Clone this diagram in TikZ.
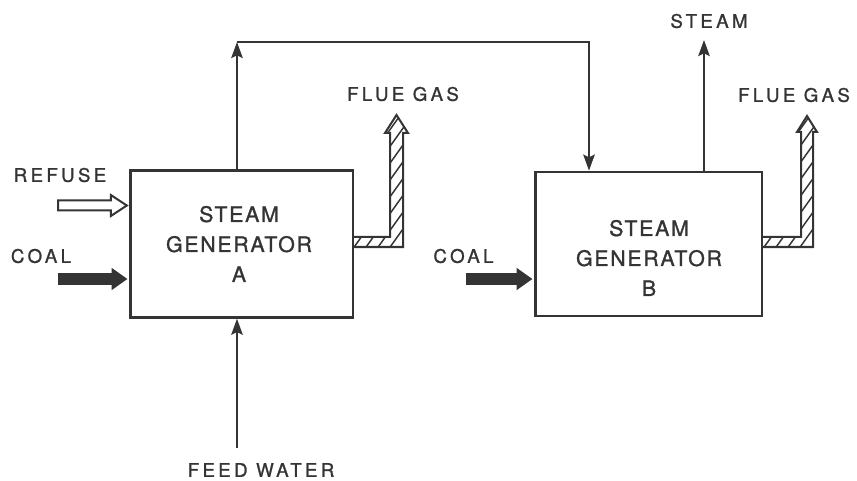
\documentclass[tikz,border=0pt]{standalone}
\usepackage{fontspec}
\setmainfont{TeX Gyre Heros}[LetterSpace=18,FakeBold=1.2]
\usetikzlibrary{arrows.meta,positioning,calc}
\definecolor{ink}{RGB}{52,52,52}

\begin{document}
\begin{tikzpicture}[x=0.75pt,y=-0.75pt,color=ink,
  every node/.style={font=\fontsize{14}{16}\selectfont,inner sep=0pt},
  genbox/.style={draw,line width=2pt,minimum width=167pt,minimum height=110pt},
  gentext/.style={align=center,font=\fontsize{16}{22.5}\selectfont\addfontfeature{LetterSpace=8}},
  flow/.style={line width=2pt,-{Stealth[length=12pt,width=8.5pt,inset=2pt]}},
  fuel/.style={line width=9pt,-{Triangle[length=12pt,width=16pt]},shorten >=1pt}]
  \useasboundingbox (0,0) rectangle (857,481);

  % steam generators
  \node[genbox] (genA) at (241.5,244) {};
  \node[genbox,minimum width=170pt,minimum height=108pt] (genB) at (648.5,244) {};
  \node[gentext] (textA) at (239,244) {STEAM\\GENERATOR\\A};
  \node[gentext] (textB) at (649,258) {STEAM\\GENERATOR\\B};

  % labels
  \node (refuse) at (60,175) {REFUSE};
  \node (coalA) at (41,256) {COAL};
  \node (coalB) at (463.5,256) {COAL};
  \node (flueA) at (403,94) {FLUE GAS};
  \node (flueB) at (794,95) {FLUE GAS};
  \node (steam) at (709,21) {STEAM};
  \node (feed) at (261,470) {FEED WATER};

  % free ends
  \coordinate (feedin) at (237,448);
  \coordinate (splitA) at (237,42);
  \coordinate (splitB) at (589,42);
  \coordinate (steamout) at (704,40);
  \coordinate (refin) at (58,205.5);
  \coordinate (coalinA) at (58,279);
  \coordinate (coalinB) at (466,279);

  % steam and water lines
  \draw[flow] (feedin) -- (feedin |- genA.south);
  \draw[flow] (splitA |- genA.north) -- (splitA);
  \draw[flow] (splitA) -- (splitB) -- (splitB |- genB.north);
  \draw[flow] (steamout |- genB.north) -- (steamout);

  % fuel
  \draw[fuel] (coalinA) -- (coalinA -| genA.west);
  \draw[fuel] (coalinB) -- (coalinB -| genB.west);
  \draw[line width=1.5pt,fill=white,line join=miter]
    ($(refin)+(0,-5)$) -- ($(refin -| genA.west)+(-18,-5)$) -- ++(0,-5.5)
    -- ($(refin -| genA.west)+(-2,0)$)
    -- ($(refin -| genA.west)+(-18,10.5)$) -- ++(0,-5.5) -- ($(refin)+(0,5)$) -- cycle;

  % flue gas ducts
  \begin{scope}
    \clip (353,237) -- (390,237) -- (390,133) -- (385,133) -- (396.5,115) -- (408,133)
      -- (403,133) -- (403,247) -- (353,247) -- cycle;
    \foreach \k in {280,292,...,412}
      \draw[line width=1.1pt] (\k,250) -- ++(100,-140);
  \end{scope}
  \draw[line width=1.5pt,line join=miter] (353,237) -- (390,237) -- (390,133) -- (385,133)
    -- (396.5,115) -- (408,133) -- (403,133) -- (403,247) -- (353,247);
  \begin{scope}
    \clip (762,237) -- (801,237) -- (801,132) -- (797,132) -- (807,116) -- (817,132)
      -- (813,132) -- (813,247) -- (762,247) -- cycle;
    \foreach \k in {690,702,...,822}
      \draw[line width=1.1pt] (\k,250) -- ++(100,-140);
  \end{scope}
  \draw[line width=1.5pt,line join=miter] (762,237) -- (801,237) -- (801,132) -- (797,132)
    -- (807,116) -- (817,132) -- (813,132) -- (813,247) -- (762,247);
\end{tikzpicture}
\end{document}
